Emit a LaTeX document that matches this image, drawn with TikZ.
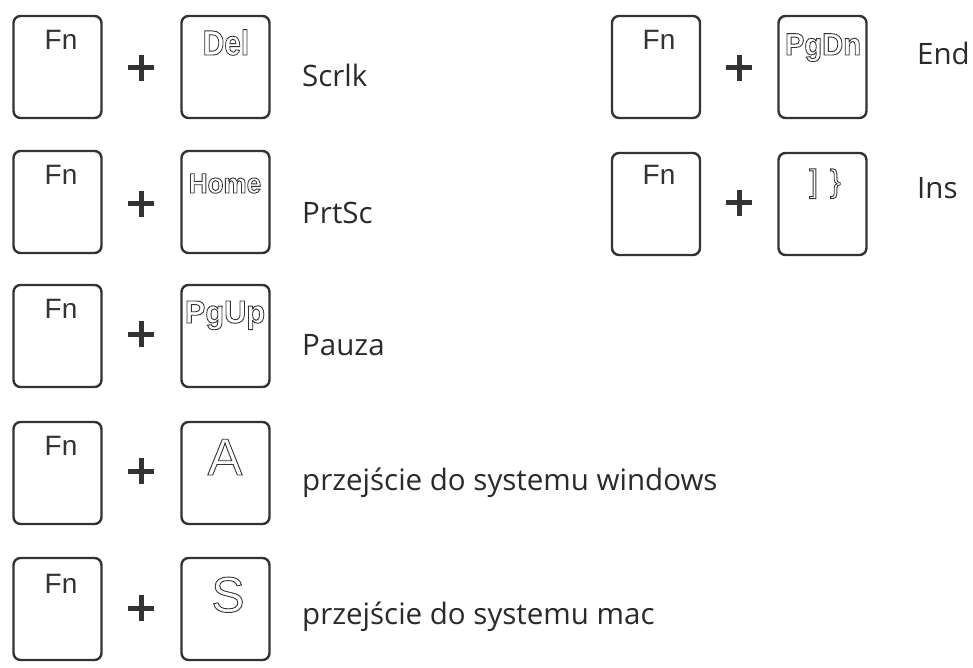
\documentclass[tikz,border=0pt]{standalone}
\usepackage{fontspec}
\setmainfont{Open Sans}
\newfontfamily\keyfont{Liberation Sans}
\newcommand{\outlinetext}[1]{\special{pdf:literal direct 1 Tr 0.9 w}#1\special{pdf:literal direct 0 Tr}}
\newcommand{\kfs}[1]{\fontsize{#1}{#1}\selectfont}
\definecolor{keyline}{HTML}{333333}
\definecolor{txt}{HTML}{2A2A2A}
\begin{document}
\begin{tikzpicture}[x=1pt,y=-1pt,
  keybox/.style={draw=keyline,line width=2.4pt,rounded corners=7pt,minimum width=88pt,minimum height=102pt,inner sep=0pt},
  fnlbl/.style={font=\keyfont\kfs{28},text=keyline,anchor=base,inner sep=0pt},
  keylbl/.style={font=\keyfont\bfseries,text=keyline,anchor=base,inner sep=0pt},
  biglbl/.style={font=\keyfont,text=keyline,anchor=base,inner sep=0pt},
  desc/.style={font=\kfs{29.5},text=txt,anchor=base west,inner sep=0pt},
  plusln/.style={line width=5pt,keyline}]
\useasboundingbox (0,0) rectangle (973,668);
% row 1
\node[keybox] (f1) at (57.5,67) {};
\node[keybox] (k1) at (225.5,67) {};
\node[fnlbl] (f1t) at (61,50) {Fn};
\node[keylbl,xscale=0.85] (k1t) at (226,55) {\kfs{35}\outlinetext{Del}};
\coordinate (p1) at (141,68);
\draw[plusln] ([xshift=-13pt]p1) -- ([xshift=13pt]p1);
\draw[plusln] ([yshift=-13pt]p1) -- ([yshift=13pt]p1);
\node[desc] (d1) at (302,87) {Scrlk};
% row 2
\node[keybox] (f2) at (57.5,202) {};
\node[keybox] (k2) at (225.5,202) {};
\node[fnlbl] (f2t) at (61,185) {Fn};
\node[keylbl,xscale=0.93] (k2t) at (225,193) {\kfs{28}\outlinetext{Home}};
\coordinate (p2) at (141,204);
\draw[plusln] ([xshift=-13pt]p2) -- ([xshift=13pt]p2);
\draw[plusln] ([yshift=-13pt]p2) -- ([yshift=13pt]p2);
\node[desc] (d2) at (302,223) {PrtSc};
% row 3
\node[keybox] (f3) at (57.5,336) {};
\node[keybox] (k3) at (225.5,336) {};
\node[fnlbl] (f3t) at (61,318) {Fn};
\node[keylbl,xscale=0.96] (k3t) at (225,323) {\kfs{32}\outlinetext{PgUp}};
\coordinate (p3) at (141,334);
\draw[plusln] ([xshift=-13pt]p3) -- ([xshift=13pt]p3);
\draw[plusln] ([yshift=-13pt]p3) -- ([yshift=13pt]p3);
\node[desc] (d3) at (302,355) {Pauza};
% row 4
\node[keybox] (f4) at (57.5,473) {};
\node[keybox] (k4) at (225.5,473) {};
\node[fnlbl] (f4t) at (61,455) {Fn};
\node[biglbl] (k4t) at (225,475) {\kfs{52}\outlinetext{A}};
\coordinate (p4) at (141,471);
\draw[plusln] ([xshift=-13pt]p4) -- ([xshift=13pt]p4);
\draw[plusln] ([yshift=-13pt]p4) -- ([yshift=13pt]p4);
\node[desc] (d4) at (302,490) {przejście do systemu windows};
% row 5
\node[keybox] (f5) at (57.5,609) {};
\node[keybox] (k5) at (225.5,609) {};
\node[fnlbl] (f5t) at (61,593) {Fn};
\node[biglbl] (k5t) at (228,612) {\kfs{50}\outlinetext{S}};
\coordinate (p5) at (141,608);
\draw[plusln] ([xshift=-13pt]p5) -- ([xshift=13pt]p5);
\draw[plusln] ([yshift=-13pt]p5) -- ([yshift=13pt]p5);
\node[desc] (d5) at (302,624) {przejście do systemu mac};
% right row 1
\node[keybox] (f6) at (656,67) {};
\node[keybox] (k6) at (822.5,67) {};
\node[fnlbl] (f6t) at (659,50) {Fn};
\node[keylbl,xscale=0.94] (k6t) at (823,55) {\kfs{31}\outlinetext{PgDn}};
\coordinate (p6) at (739,68);
\draw[plusln] ([xshift=-13pt]p6) -- ([xshift=13pt]p6);
\draw[plusln] ([yshift=-13pt]p6) -- ([yshift=13pt]p6);
\node[desc] (d6) at (917,65) {End};
% right row 2
\node[keybox] (f7) at (656,204) {};
\node[keybox] (k7) at (822.5,204) {};
\node[fnlbl] (f7t) at (659,185) {Fn};
\node[biglbl] (k7t) at (825,192) {\kfs{32}\outlinetext{]\hspace{12pt}\}}};
\coordinate (p7) at (739,203);
\draw[plusln] ([xshift=-13pt]p7) -- ([xshift=13pt]p7);
\draw[plusln] ([yshift=-13pt]p7) -- ([yshift=13pt]p7);
\node[desc] (d7) at (917,199) {Ins};
\end{tikzpicture}
\end{document}
